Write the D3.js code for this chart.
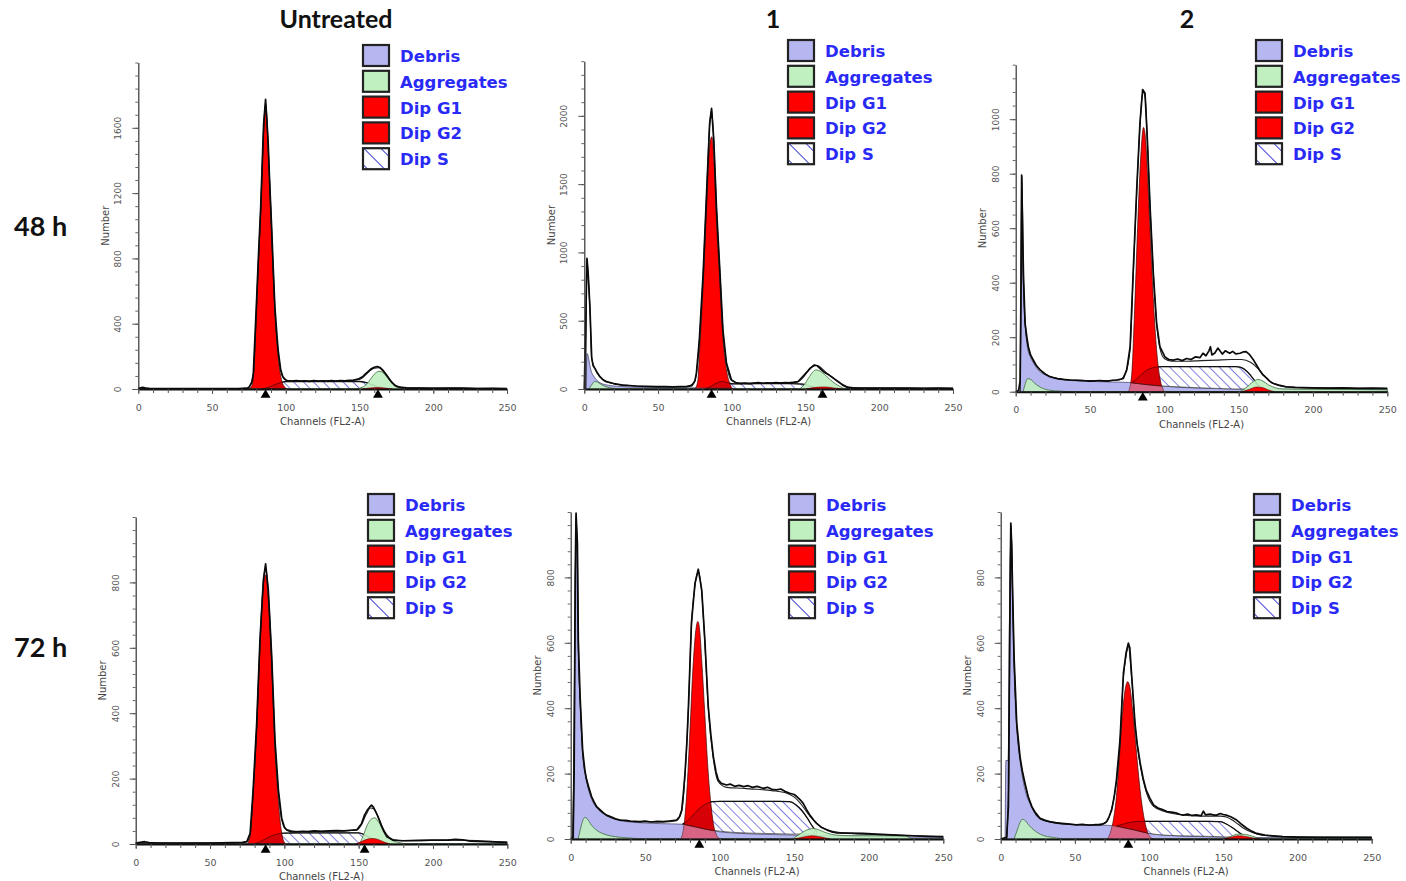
<!DOCTYPE html>
<html><head><meta charset="utf-8">
<script src="https://cdn.jsdelivr.net/npm/d3@7"></script>
<style>
body{margin:0;background:#fff;}
svg{display:block;}
</style></head><body>
<svg id="chart" width="1406" height="881"></svg>
<script>
// ---------- labels ----------
const columnTitles = ["Untreated", "1", "2"];
const rowTitles = ["48 h", "72 h"];
const legendLabels = ["Debris", "Aggregates", "Dip G1", "Dip G2", "Dip S"];
const xTickValues = [0, 50, 100, 150, 200, 250];
const xAxisTitle = "Channels (FL2-A)";
const yAxisTitle = "Number";

// ---------- axes per panel (48h: Untreated, 1, 2; 72h: Untreated, 1, 2) ----------
const yTickSets = [
  [0, 400, 800, 1200, 1600],
  [0, 500, 1000, 1500, 2000],
  [0, 200, 400, 600, 800, 1000],
  [0, 200, 400, 600, 800],
  [0, 200, 400, 600, 800],
  [0, 200, 400, 600, 800]
];
const yMaxes = [2000, 2400, 1200, 1000, 1000, 1000];
const yMinorSteps = [80, 100, 50, 40, 40, 40];
// G1 / G2 peak means (channel) marked under the axis
const peakMarkers = [[86.3, 162.5], [86.3, 161.5], [85.5], [87.4, 154], [86.3], [86]];

// ---------- 48 h, Untreated ----------
const p1Data = [[0,4],[3,10],[5,6],[8,3],[15,2],[30,3],[45,2],[60,2],[70,3],[74,6],[75,10],[77,40],[78,96],[80,500],[81.5,820],[83,1116],[85,1626],[86.3,1775],[88,1524],[89,1280],[90.3,1014],[91.5,740],[92.6,504],[94,330],[94.8,239],[96.5,120],[98,75],[100,55],[101,52],[104,49],[107,51],[110,48],[113,50],[116,47],[119,51],[122,49],[125,50],[128,48],[131,51],[134,49],[137,52],[140,50],[143,53],[146,55],[149,60],[152,75],[154,92],[156,108],[158,124],[160,133],[162,138],[164,131],[166,114],[168,90],[170,64],[172,40],[174,22],[177,11],[182,7],[190,5],[200,4],[210,6],[220,5],[230,3],[240,4],[250,3]];
const p1Fit = [[0,2],[60,2],[74,6],[76,25],[78,90],[80,480],[81.5,800],[83,1100],[85,1600],[86.3,1750],[88,1500],[90.3,1000],[92.6,495],[94.8,230],[97,100],[99,60],[102,50],[120,48],[140,50],[150,58],[154,85],[157,112],[160,128],[163,130],[166,108],[169,74],[172,40],[175,18],[180,7],[250,3]];
const p1Debris = [[0,0],[2,8],[4,8],[8,3],[20,1],[60,1],[90,1],[150,0],[250,0]];
const p1Aggregates = [[0,0],[148,0],[151,8],[154,22],[157,55],[160,90],[163,108],[165,105],[168,80],[171,45],[174,18],[178,4],[182,0],[250,0]];
const p1G1 = [[75,0],[77,20],[78,70],[80,440],[81.5,780],[83,1080],[85,1580],[86.5,1740],[88,1490],[90.3,980],[92.6,470],[94.8,200],[97,60],[99,15],[101,0]];
const p1G2 = [[152,0],[157,6],[162,9],[167,6],[172,0]];
const p1S = [[84,0,0],[88,0,10],[92,0,25],[96,0,38],[100,0,45],[110,0,46],[120,0,46],[130,0,46],[140,0,46],[150,0,46],[154,0,40],[158,0,28],[162,0,14],[166,0,5],[170,0,0]];

// ---------- 48 h, 1 ----------
const p2Data = [[0,0],[1,500],[1.8,957],[2.6,850],[3.8,600],[5,230],[6,170],[7.2,151],[8.5,125],[10.6,90],[13,65],[15,54],[20,40],[26,29],[35,22],[42,19],[49,17],[55,18],[60,16],[65,17],[69,17],[73,25],[75,60],[76,115],[78,359],[80.6,847],[83,1457],[85,1945],[86.3,2054],[87.8,1823],[89.6,1335],[92,847],[94,432],[96.4,188],[99.8,66],[103,45],[106,41],[109,44],[112,40],[115,43],[118,46],[121,42],[124,45],[127,44],[130,47],[133,43],[136,46],[139,45],[142,49],[145,55],[148,90],[151,125],[153,151],[156,176],[158,170],[161,139],[163,120],[166,102],[169,78],[172,54],[175,30],[178,12],[182,8],[190,7],[200,6],[210,7],[220,6],[230,5],[240,6],[250,5]];
const p2Fit = [[1,0],[1.8,940],[2.6,840],[3.8,590],[5,225],[7.2,150],[10.6,88],[15,53],[26,29],[49,17],[69,17],[74,40],[76,110],[78,350],[80.6,840],[83,1445],[85,1930],[86.3,2040],[87.8,1810],[89.6,1325],[92,840],[94,425],[96.4,185],[99.8,64],[105,42],[125,44],[144,50],[148,80],[152,135],[155,165],[158,172],[161,150],[164,120],[167,95],[170,72],[173,50],[176,30],[180,12],[190,7],[250,5]];
const p2Debris = [[1,0],[2,260],[3,220],[4,160],[5,120],[6,100],[8,70],[10,50],[15,30],[25,18],[40,12],[60,10],[80,8],[100,6],[150,4],[250,2]];
const p2Aggregates = [[3,0],[5,30],[7,55],[9,50],[12,30],[16,12],[22,3],[30,0],[145,0],[149,30],[152,80],[155,125],[157,140],[160,130],[163,105],[166,75],[170,40],[174,15],[178,0],[250,0]];
const p2G1 = [[75,0],[77,60],[78,250],[80.6,760],[83,1350],[85,1780],[86.5,1847],[88,1650],[89.6,1230],[92,760],[94,370],[96.4,140],[99,30],[101,0]];
const p2G2 = [[150,0],[157,12],[163,15],[169,8],[175,0]];
const p2S = [[82,0,0],[86,0,20],[90,0,45],[94,0,55],[98,0,42],[102,0,38],[110,0,38],[120,0,40],[130,0,40],[140,0,40],[148,0,35],[152,0,25],[156,0,12],[160,0,0]];

// ---------- 48 h, 2 ----------
const p3Data = [[0,0],[2,5],[3,40],[3.6,400],[4,795],[4.5,650],[5.2,434],[6.3,251],[7.5,200],[8.5,165],[10,135],[11.9,116],[14,95],[16.4,80],[20,64],[23,55],[28,48],[32,45],[36.5,43],[41,42],[45,41],[49,39],[52,39],[56,41],[59,40],[62,39],[65,42],[68,43],[70,45],[72.4,49],[74.7,80],[77,165],[79,434],[81.4,740],[83.6,985],[85.4,1109],[87,1095],[88.6,923],[90.4,679],[92.6,434],[94.8,251],[97,165],[100.4,128],[103,118],[106,116],[109,120],[112,114],[115,122],[118,118],[121,128],[124,125],[126,141],[128,132],[130,150],[131,165],[132,135],[134,142],[136,160],[137,153],[139,138],[141,150],[143,144],[144,141],[146,148],[148,139],[151,141],[153,146],[155,147],[157,138],[160,116],[162,98],[164,80],[166,64],[169,49],[171,38],[173,31],[177,24],[182,18],[188,16],[193,15],[200,14],[210,13],[220,14],[230,12],[240,13],[250,12]];
const p3Fit = [[3,0],[3.8,600],[4.2,790],[5,470],[6.3,260],[8.5,160],[11.9,112],[16.4,80],[23,56],[36.5,43],[59,40],[70,44],[74,70],[77,160],[79,420],[81.4,730],[83.6,975],[85.5,1100],[87,1085],[88.6,915],[90.4,670],[92.6,430],[94.8,250],[97,160],[100,122],[105,112],[115,112],[125,114],[135,116],[145,118],[152,118],[158,108],[163,85],[167,60],[171,38],[175,26],[182,18],[200,14],[250,12]];
const p3Debris = [[3,0],[3.5,300],[4,790],[4.6,500],[5.5,330],[6.3,250],[8,160],[10,125],[12,105],[15,80],[20,62],[25,52],[30,46],[40,40],[55,37],[70,35],[76,34],[82,30],[90,25],[100,20],[115,15],[130,12],[150,10],[180,9],[250,8]];
const p3Aggregates = [[5,0],[6.5,30],[8,48],[10,45],[13,30],[17,15],[22,6],[30,2],[40,0],[150,0],[155,15],[160,38],[163,45],[166,40],[170,25],[175,14],[180,10],[200,9],[230,8],[250,7]];
const p3G1 = [[76,0],[78,60],[80,300],[82,600],[84,850],[86,970],[87.5,920],[89,760],[91,520],[93,300],[95,140],[97,50],[99,10],[100,0]];
const p3G2 = [[152,0],[157,8],[162,17],[166,15],[170,6],[174,0]];
const p3S = [[78,32,32],[82,30,50],[86,27,70],[90,25,84],[94,23,90],[98,21,92],[105,19,92],[120,15,92],[135,12,92],[148,10,92],[152,10,88],[156,10,72],[160,10,46],[163,10,25],[166,10,10]];

// ---------- 72 h, Untreated ----------
const p4Data = [[0,3],[3,5],[6,7],[9,4],[15,3],[30,3],[50,3],[65,4],[72,5],[74.7,7],[77,33],[79,165],[81.4,369],[83.6,624],[85.9,808],[87.4,857],[89.2,777],[91.5,573],[93.7,318],[96,165],[98.2,79],[100,52],[101.6,43],[104,38],[108,37],[112,39],[116,38],[120,40],[125,39],[130,40],[135,41],[140,40],[145,42],[148.7,43],[152,63],[154,89],[156,105],[157.6,114],[158.7,119],[160,112],[162,94],[164,72],[165.5,53],[167,38],[169,22],[173,12],[180,10],[190,11],[200,12],[210,12],[215,14],[220,13],[225,9],[235,7],[250,5]];
const p4Fit = [[0,3],[70,4],[75,8],[77,30],[79,160],[81.4,360],[83.6,615],[85.9,800],[87.4,848],[89.2,770],[91.5,565],[93.7,310],[96,160],[98.2,75],[101,45],[110,38],[140,40],[149,44],[152,60],[155,90],[158,110],[160,108],[163,85],[166,52],[169,28],[173,14],[180,10],[215,12],[250,5]];
const p4Debris = [[0,0],[2,3],[5,4],[10,3],[30,2],[80,2],[120,1],[250,0]];
const p4Aggregates = [[0,0],[150,0],[153,25],[156,60],[159,78],[161,80],[163,70],[166,48],[169,25],[173,10],[178,4],[182,0],[250,0]];
const p4G1 = [[75,0],[77,25],[79,150],[81.4,350],[83.6,600],[85.9,790],[87.5,823],[89.2,750],[91.5,545],[93.7,290],[96,130],[98,40],[100,5],[101,0]];
const p4G2 = [[148,0],[152,8],[156,15],[159,17],[163,14],[167,6],[171,0]];
const p4S = [[80,0,0],[84,0,8],[88,0,18],[92,0,26],[96,0,31],[100,0,33],[110,0,34],[120,0,34],[130,0,34],[140,0,34],[150,0,34],[154,0,28],[158,0,18],[162,0,8],[166,0,0]];

// ---------- 72 h, 1 ----------
const p5Data = [[0,0],[1.5,5],[2.3,200],[3,800],[3.6,997],[4.2,930],[4.5,905],[5.1,609],[6.3,436],[8,272],[9.5,210],[10.7,181],[12,160],[14,130],[15.5,115],[17.4,99],[20,88],[22,80],[24,73],[27,68],[30,62],[33,58],[37,57],[40,55],[43,54],[46.5,53],[50,55],[54,52],[58,54],[62,53],[66,55],[71,58],[73,68],[74.5,89],[75.6,140],[76.7,201],[78,300],[79,405],[81,660],[83.4,782],[85.6,825],[87.9,762],[90,609],[92.3,405],[94,320],[95.7,252],[97.5,205],[99,181],[101,170],[104.6,165],[107,168],[110,161],[113,164],[116,160],[119,163],[122,158],[125,161],[129,155],[132,158],[135,152],[138,150],[141,153],[144,145],[147,140],[150,136],[151.6,130],[154,120],[156,109],[158,92],[160.5,73],[163,58],[165,48],[168,36],[171.7,28],[175,22],[178,19],[185,18],[196,17],[205,15],[219,12],[230,10],[240,8],[250,7]];
const p5Fit = [[1.5,0],[3,700],[3.6,980],[4.5,880],[5.1,600],[6.3,430],[8,270],[10.7,180],[14,128],[17.4,98],[24,72],[33,58],[46.5,52],[62,52],[71,56],[74.5,85],[76.7,195],[79,400],[81,650],[83.4,775],[85.6,818],[87.9,755],[90,600],[92.3,400],[95.7,245],[99,175],[104.6,158],[115,155],[125,152],[135,148],[145,140],[150,128],[154,110],[158,85],[162,62],[166,44],[170,32],[175,24],[185,18],[210,13],[250,7]];
const p5Debris = [[2,0],[2.5,300],[3.3,900],[3.6,990],[4.2,800],[5,580],[6.3,420],[8,260],[10,190],[12,150],[15,112],[20,85],[25,70],[30,60],[40,52],[50,49],[60,47],[70,46],[75,45],[80,40],[85,35],[90,30],[100,22],[110,18],[125,15],[150,12],[200,8],[250,5]];
const p5Aggregates = [[5,0],[6.5,30],[8,55],[9.5,66],[11,62],[14,42],[18,25],[23,14],[30,7],[40,3],[50,0],[148,0],[152,10],[156,22],[160,30],[163,32],[167,27],[172,18],[178,12],[190,10],[210,10],[225,9],[228,2],[232,0],[250,0]];
const p5G1 = [[74,0],[76,40],[78,150],[80,330],[82,520],[84,640],[85.3,665],[86.5,640],[88,540],[90,380],[92,220],[94,110],[96,40],[98,10],[100,0]];
const p5G2 = [[150,0],[156,6],[162,10],[168,6],[174,0]];
const p5S = [[75,45,45],[79,42,58],[83,38,78],[87,34,96],[91,30,108],[95,27,114],[100,24,115],[110,20,115],[120,18,115],[130,17,115],[140,16,115],[147,15,114],[151,15,105],[155,15,88],[159,15,62],[162,15,40],[165,15,22]];

// ---------- 72 h, 2 ----------
const p6Data = [[0,0],[4,5],[5.2,100],[6,600],[6.8,966],[7.4,900],[8,762],[9,558],[10.8,354],[13,252],[14.5,210],[16.4,170],[18.5,130],[21,99],[23.5,80],[26.5,63],[30,57],[33,53],[37,50],[41,48],[45,46],[51,43],[55,45],[60,42],[64,44],[67,43],[69,46],[71.4,53],[73,68],[74.8,89],[76.5,130],[78,181],[80.4,303],[82.7,507],[84.5,570],[86,599],[87,585],[88.3,497],[90.5,354],[92,290],[94,232],[96,185],[98,150],[100.5,125],[103,104],[106,95],[109,90],[112,84],[115,82],[118,80],[121,75],[123,73],[126,76],[129,72],[132,74],[135,71],[136.6,85],[138,74],[141,76],[144,73],[145.5,73],[148,78],[150,75],[152,73],[155,68],[159,58],[162,46],[165.8,33],[169,24],[172.5,17],[178,12],[185,9],[190,7],[200,6],[215,5],[230,5],[250,5]];
const p6Fit = [[4,0],[5.5,200],[6.5,850],[7,960],[8,760],[9,550],[10.8,350],[13,250],[16.4,165],[21,97],[26.5,62],[33,52],[45,45],[60,43],[70,48],[74,80],[78,175],[80.4,295],[82.7,495],[84.5,560],[86,588],[88.3,490],[90.5,348],[94,225],[98,145],[103,100],[110,85],[120,75],[135,70],[148,70],[152,67],[156,58],[160,45],[164,32],[168,23],[173,15],[180,10],[200,6],[250,5]];
const p6Debris = [[3,0],[3.5,240],[5,240],[6,700],[7,950],[8,720],[8.8,550],[10,400],[11.5,300],[13,240],[15,180],[17,140],[20,105],[23,82],[26,66],[30,57],[40,48],[50,44],[60,43],[72,42],[78,38],[85,32],[92,25],[100,17],[110,12],[130,8],[160,5],[250,3]];
const p6Aggregates = [[9,0],[11,25],[13,50],[14.5,60],[16,58],[19,42],[23,25],[28,12],[35,5],[45,0],[150,0],[155,8],[160,15],[165,14],[170,8],[176,0],[250,0]];
const p6G1 = [[72,0],[74,20],[76,60],[78,130],[80,250],[82,380],[84,460],[85.5,481],[87,465],[89,390],[91,290],[93,190],[95,110],[97,55],[99,20],[101,5],[103,0]];
const p6G2 = [[150,0],[155,5],[160,10],[165,8],[170,3],[175,0]];
const p6S = [[78,40,40],[82,36,45],[86,32,50],[90,28,53],[95,22,54],[100,17,54],[110,12,54],[120,10,54],[130,9,54],[140,8,54],[148,7,53],[152,6,46],[156,6,35],[160,6,22],[163,6,12]];

// ---------- assemble panels ----------
const panelSeries = [
  {data: p1Data, fit: p1Fit, debris: p1Debris, agg: p1Aggregates, g1: p1G1, g2: p1G2, s: p1S},
  {data: p2Data, fit: p2Fit, debris: p2Debris, agg: p2Aggregates, g1: p2G1, g2: p2G2, s: p2S},
  {data: p3Data, fit: p3Fit, debris: p3Debris, agg: p3Aggregates, g1: p3G1, g2: p3G2, s: p3S},
  {data: p4Data, fit: p4Fit, debris: p4Debris, agg: p4Aggregates, g1: p4G1, g2: p4G2, s: p4S},
  {data: p5Data, fit: p5Fit, debris: p5Debris, agg: p5Aggregates, g1: p5G1, g2: p5G2, s: p5S},
  {data: p6Data, fit: p6Fit, debris: p6Debris, agg: p6Aggregates, g1: p6G1, g2: p6G2, s: p6S}
];

// plot frames (pixel placement of each histogram)
const frames = [
  {left: 138.3, right: 507, base: 389, top: 62.5},
  {left: 584.3, right: 953, base: 389, top: 61.2},
  {left: 1015.7, right: 1387.3, base: 391.7, top: 64.7},
  {left: 135.7, right: 507.3, base: 844, top: 517},
  {left: 570.7, right: 943.3, base: 839, top: 512},
  {left: 1000.7, right: 1371.7, base: 839, top: 512}
];
const legendFrames = [
  {x: 363, y: 45}, {x: 788, y: 40}, {x: 1256, y: 40},
  {x: 368, y: 494}, {x: 789, y: 494}, {x: 1254, y: 494}
];

const COL = {
  debris: "#b6b6f0", agg: "#c0f0c0", red: "#ff0000",
  hatch: "#3a3ad0", legendText: "#2a2af6", axis: "#333", tickText: "#555"
};

const svg = d3.select("#chart");
const defs = svg.append("defs");

// diagonal hatch for S phase
function makeHatch(id, gap, width) {
  const p = defs.append("pattern").attr("id", id)
    .attr("patternUnits", "userSpaceOnUse").attr("width", gap).attr("height", gap)
    .attr("patternTransform", "rotate(-45)");
  p.append("rect").attr("width", gap).attr("height", gap).attr("fill", "#fff");
  p.append("line").attr("x1", 0).attr("y1", 0).attr("x2", 0).attr("y2", gap)
    .attr("stroke", COL.hatch).attr("stroke-width", width);
}
makeHatch("hatchPlot", 7, 1.3);
makeHatch("hatchLegend", 12, 2);

// titles
const colCenters = [336, 773, 1187];
svg.selectAll("text.coltitle").data(columnTitles).join("text")
  .attr("class", "coltitle")
  .attr("x", (d, i) => colCenters[i]).attr("y", 28)
  .attr("text-anchor", "middle")
  .attr("font-family", "Lato, 'Open Sans', sans-serif").attr("font-weight", "bold")
  .attr("font-size", 25).attr("fill", "#111").text(d => d);

const rowBaselines = [236, 657];
svg.selectAll("text.rowtitle").data(rowTitles).join("text")
  .attr("class", "rowtitle")
  .attr("x", 14).attr("y", (d, i) => rowBaselines[i])
  .attr("font-family", "Lato, 'Open Sans', sans-serif").attr("font-weight", "bold")
  .attr("font-size", 27).attr("fill", "#111").text(d => d);

panelSeries.forEach((ser, i) => drawPanel(i, ser, frames[i]));

function drawPanel(i, ser, F) {
  const g = svg.append("g").attr("class", "panel panel-" + i);
  const x = d3.scaleLinear().domain([0, 250]).range([F.left, F.right]);
  const y = d3.scaleLinear().domain([0, yMaxes[i]]).range([F.base, F.top]);

  const area = d3.area().x(d => x(d[0])).y0(y(0)).y1(d => y(d[1])).curve(d3.curveMonotoneX);
  const band = d3.area().x(d => x(d[0])).y0(d => y(d[1])).y1(d => y(d[2])).curve(d3.curveMonotoneX);
  const bandTop = d3.line().x(d => x(d[0])).y(d => y(d[2])).curve(d3.curveMonotoneX);
  const smooth = d3.line().x(d => x(d[0])).y(d => y(d[1])).curve(d3.curveMonotoneX);
  const raw = d3.line().x(d => x(d[0])).y(d => y(d[1]));

  // components
  g.append("path").attr("d", area(ser.debris))
    .attr("fill", COL.debris).attr("stroke", "#4a4a70").attr("stroke-width", 0.8);
  g.append("path").attr("d", band(ser.s))
    .attr("fill", "url(#hatchPlot)").attr("stroke", "#333").attr("stroke-width", 0.7);
  g.append("path").attr("d", bandTop(ser.s))
    .attr("fill", "none").attr("stroke", "#111").attr("stroke-width", 1.3);
  g.append("path").attr("d", area(ser.agg))
    .attr("fill", COL.agg).attr("fill-opacity", 0.9).attr("stroke", "#3d6b3d").attr("stroke-width", 0.8);
  g.append("path").attr("d", area(ser.g2))
    .attr("fill", COL.red).attr("stroke", "#500").attr("stroke-width", 0.6);
  g.append("path").attr("d", area(ser.g1))
    .attr("fill", COL.red).attr("stroke", "#400").attr("stroke-width", 0.7);

  // shading where debris and S overlap the G1 peak
  const clipId = "g1clip" + i;
  defs.append("clipPath").attr("id", clipId).append("path").attr("d", area(ser.g1));
  const ov = g.append("g").attr("clip-path", `url(#${clipId})`);
  ov.append("path").attr("d", area(ser.debris)).attr("fill", COL.debris).attr("fill-opacity", 0.55)
    .attr("stroke", "#633").attr("stroke-width", 0.6);
  ov.append("path").attr("d", band(ser.s)).attr("fill", "#7a0018").attr("fill-opacity", 0.3)
    .attr("stroke", "#400").attr("stroke-width", 0.7);

  // model fit and measured histogram
  g.append("path").attr("d", smooth(ser.fit))
    .attr("fill", "none").attr("stroke", "#222").attr("stroke-width", 1.1);
  g.append("path").attr("d", raw(ser.data))
    .attr("fill", "none").attr("stroke", "#0a0a0a").attr("stroke-width", 1.7)
    .attr("stroke-linejoin", "round");

  // y axis: minor then major ticks
  const yMinor = d3.range(0, yMaxes[i] + 1e-6, yMinorSteps[i]);
  g.append("g").attr("transform", `translate(${F.left},0)`)
    .call(d3.axisLeft(y).tickValues(yMinor).tickSize(3).tickSizeOuter(0).tickFormat(""))
    .call(a => a.select(".domain").attr("stroke", COL.axis).attr("stroke-width", 1.2))
    .call(a => a.selectAll(".tick line").attr("stroke", "#666"));
  const ya = g.append("g").attr("transform", `translate(${F.left},0)`)
    .call(d3.axisLeft(y).tickValues(yTickSets[i]).tickSize(6).tickSizeOuter(0).tickFormat(d3.format("d")))
    .call(a => a.select(".domain").remove())
    .call(a => a.selectAll(".tick line").attr("stroke", "#555"));
  ya.selectAll(".tick text")
    .attr("x", 0).attr("y", 0).attr("dy", "0.35em")
    .attr("text-anchor", "middle")
    .attr("transform", "translate(-20,0) rotate(-90)")
    .attr("font-family", "'DejaVu Sans', sans-serif").attr("font-size", 9)
    .attr("fill", COL.tickText);

  // x axis
  g.append("g").attr("transform", `translate(0,${F.base})`)
    .call(d3.axisBottom(x).tickValues(d3.range(0, 251, 10)).tickSize(4).tickSizeOuter(0).tickFormat(""))
    .call(a => a.select(".domain").attr("stroke", "#111").attr("stroke-width", 2))
    .call(a => a.selectAll(".tick line").attr("stroke", "#555"));
  const xa = g.append("g").attr("transform", `translate(0,${F.base})`)
    .call(d3.axisBottom(x).tickValues(xTickValues).tickSize(5).tickSizeOuter(0).tickFormat(d3.format("d")))
    .call(a => a.select(".domain").remove())
    .call(a => a.selectAll(".tick line").attr("stroke", "#555"));
  xa.selectAll(".tick text").attr("y", 15).attr("dy", "0.71em")
    .attr("font-family", "'DejaVu Sans', sans-serif").attr("font-size", 9.5)
    .attr("fill", COL.tickText);

  // axis titles
  g.append("text").attr("x", (F.left + F.right) / 2).attr("y", F.base + 36)
    .attr("text-anchor", "middle")
    .attr("font-family", "'DejaVu Sans', sans-serif").attr("font-size", 10)
    .attr("fill", "#444").text(xAxisTitle);
  g.append("text")
    .attr("transform", `translate(${F.left - 33},${(F.base + F.top) / 2}) rotate(-90)`)
    .attr("dy", "0.35em").attr("text-anchor", "middle")
    .attr("font-family", "'DejaVu Sans', sans-serif").attr("font-size", 10)
    .attr("fill", "#444").text(yAxisTitle);

  // peak markers
  g.selectAll("path.marker").data(peakMarkers[i]).join("path")
    .attr("class", "marker")
    .attr("d", d3.symbol(d3.symbolTriangle, 42))
    .attr("transform", d => `translate(${x(d)},${F.base + 6})`)
    .attr("fill", "#000");

  // legend
  const L = legendFrames[i];
  const fills = [COL.debris, COL.agg, COL.red, COL.red, "url(#hatchLegend)"];
  const lg = g.append("g").attr("transform", `translate(${L.x},${L.y})`);
  const rows = lg.selectAll("g").data(legendLabels).join("g")
    .attr("transform", (d, k) => `translate(0,${k * 25.8})`);
  rows.append("rect").attr("x", 0).attr("y", 0).attr("width", 26).attr("height", 21)
    .attr("fill", (d, k) => fills[k]).attr("stroke", "#222").attr("stroke-width", 2.2);
  rows.append("text").attr("x", 37).attr("y", 17)
    .attr("font-family", "'DejaVu Sans', Verdana, sans-serif").attr("font-weight", "bold")
    .attr("font-size", 16.5).attr("fill", COL.legendText).text(d => d);
}
</script>
</body></html>
